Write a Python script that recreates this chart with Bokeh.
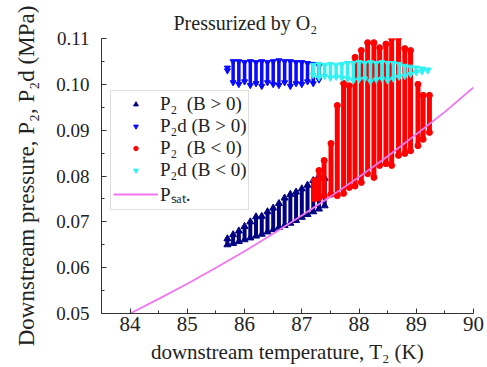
from bokeh.plotting import figure
from bokeh.models import FixedTicker, PrintfTickFormatter, Legend
from bokeh.embed import file_html
from bokeh.resources import INLINE

# ---------------- data ----------------
x_ticks = [84, 85, 86, 87, 88, 89, 90]
y_ticks = [0.05, 0.06, 0.07, 0.08, 0.09, 0.10, 0.11]

# P2 (B > 0): column temperature, lowest and highest pressure
p2_pos_T = [85.70, 85.80, 85.90, 86.00, 86.10, 86.20, 86.30, 86.40, 86.50,
            86.60, 86.70, 86.80, 86.90, 87.00, 87.10, 87.20, 87.30, 87.40]
p2_pos_lo = [0.0650, 0.0653, 0.0657, 0.0661, 0.0665, 0.0669, 0.0673, 0.0678, 0.0683,
             0.0688, 0.0692, 0.0697, 0.0703, 0.0710, 0.0716, 0.0722, 0.0728, 0.0735]
p2_pos_hi = [0.0663, 0.0672, 0.0680, 0.0690, 0.0700, 0.0711, 0.0712, 0.0722, 0.0730,
             0.0740, 0.0752, 0.0760, 0.0765, 0.0772, 0.0780, 0.0790, 0.0800, 0.0795]

# P2d (B > 0)
p2d_pos_T = [85.70, 85.80, 85.90, 86.00, 86.10, 86.20, 86.30, 86.40, 86.50,
             86.60, 86.70, 86.80, 86.90, 87.00, 87.10, 87.20, 87.30]
p2d_pos_lo = [0.1030, 0.1004, 0.1000, 0.1006, 0.0998, 0.1002, 0.0996, 0.1004, 0.1000,
              0.0998, 0.1004, 0.0996, 0.1002, 0.1000, 0.1006, 0.1002, 0.1010]
p2d_pos_hi = [0.1036, 0.1050, 0.1050, 0.1048, 0.1050, 0.1048, 0.1050, 0.1048, 0.1050,
              0.1052, 0.1050, 0.1050, 0.1048, 0.1048, 0.1046, 0.1044, 0.1040]

# P2 (B < 0)
p2_neg_T = [87.22, 87.30, 87.39, 87.51, 87.62, 87.73, 87.83, 87.93, 88.04, 88.15,
            88.26, 88.36, 88.47, 88.57, 88.69, 88.80, 88.90, 89.03, 89.12, 89.23]
p2_neg_lo = [0.0750, 0.0752, 0.0757, 0.0760, 0.0757, 0.0762, 0.0775, 0.0778, 0.0786, 0.0805,
             0.0797, 0.0823, 0.0827, 0.0823, 0.0845, 0.0849, 0.0855, 0.0866, 0.0880, 0.0895]
p2_neg_hi = [0.0790, 0.0812, 0.0834, 0.0871, 0.0954, 0.1002, 0.0997, 0.1059, 0.1074, 0.1091,
             0.1091, 0.1080, 0.1088, 0.1100, 0.1102, 0.1078, 0.1074, 0.1000, 0.0976, 0.0976]

# P2d (B < 0)
p2d_neg_T = [87.20, 87.30, 87.40, 87.50, 87.60, 87.70, 87.80, 87.90, 88.00, 88.10, 88.20,
             88.30, 88.40, 88.50, 88.60, 88.70, 88.80, 88.90, 89.00, 89.10, 89.20]
p2d_neg_lo = [0.1020, 0.1015, 0.1018, 0.1014, 0.1016, 0.1014, 0.1012, 0.1008, 0.1010, 0.1012, 0.1006,
              0.1010, 0.1012, 0.1008, 0.1012, 0.1016, 0.1018, 0.1022, 0.1026, 0.1028, 0.1030]
p2d_neg_hi = [0.1042, 0.1044, 0.1042, 0.1044, 0.1042, 0.1044, 0.1046, 0.1046, 0.1048, 0.1046, 0.1048,
              0.1046, 0.1048, 0.1046, 0.1046, 0.1044, 0.1040, 0.1038, 0.1036, 0.1034, 0.1032]

# saturation pressure
psat_T = [84.0, 84.5, 85.0, 85.5, 86.0, 86.5, 87.0, 87.5, 88.0, 88.5, 89.0, 89.5, 90.0]
psat_P = [0.0500, 0.0532, 0.0565, 0.0600, 0.0636, 0.0674, 0.0714, 0.0755, 0.0798,
          0.0843, 0.0891, 0.0940, 0.0993]

SERIF = "Liberation Serif"
NAN = float("nan")

p = figure(width=487, height=367, x_range=(83.5, 90.0), y_range=(0.05, 0.11),
           output_backend="svg", toolbar_location=None,
           min_border_left=101, min_border_right=14, min_border_top=38, min_border_bottom=54)
p.outline_line_color = None
p.xgrid.visible = False
p.ygrid.visible = False
p.background_fill_color = "white"
p.border_fill_color = "white"

p.title.text = "Pressurized by O\u2082"
p.title.text_font = SERIF
p.title.text_font_size = "20px"
p.title.text_font_style = "normal"
p.title.align = "left"
p.title.offset = 72
p.title.standoff = 9
p.title.text_color = "#222222"

for ax in (p.xaxis[0], p.yaxis[0]):
    ax.axis_line_color = "#333333"
    ax.major_tick_line_color = "#333333"
    ax.minor_tick_line_color = "#333333"
    ax.major_tick_in = 5
    ax.major_tick_out = 0
    ax.minor_tick_in = 3
    ax.minor_tick_out = 0
    ax.major_label_text_font = SERIF
    ax.axis_label_text_font = SERIF
    ax.axis_label_text_font_style = "normal"
    ax.major_label_text_color = "#222222"
    ax.axis_label_text_color = "#222222"

p.xaxis.ticker = FixedTicker(ticks=x_ticks, minor_ticks=[t + 0.5 for t in x_ticks[:-1]])
p.yaxis.ticker = FixedTicker(ticks=y_ticks, minor_ticks=[t + 0.005 for t in y_ticks[:-1]])
p.yaxis.formatter = PrintfTickFormatter(format="%.2f")
p.xaxis.major_label_text_font_size = "21px"
p.yaxis.major_label_text_font_size = "19px"
p.xaxis.major_label_standoff = 3
p.yaxis.major_label_standoff = 12
p.xaxis.axis_label = "downstream temperature, T\u2082 (K)"
p.yaxis.axis_label = "Downstream pressure, P\u2082, P\u2082d (MPa)"
p.xaxis.axis_label_text_font_size = "21px"
p.yaxis.axis_label_text_font_size = "23px"
p.xaxis.axis_label_standoff = 6
p.yaxis.axis_label_standoff = 14

NAVY = "#000080"
BLUE = "#0a0aff"
RED = "#ff0000"
CYAN = "#30f2f2"
VIOLET = "#f276f2"

# P2 (B > 0)
p.segment(x0=p2_pos_T, y0=p2_pos_lo, x1=p2_pos_T, y1=p2_pos_hi, line_color=NAVY, line_width=4)
p.scatter(x=p2_pos_T + p2_pos_T, y=p2_pos_lo + p2_pos_hi, marker="triangle", size=7,
          fill_color=NAVY, line_color=NAVY)
# P2d (B > 0)
p.segment(x0=p2d_pos_T, y0=p2d_pos_lo, x1=p2d_pos_T, y1=p2d_pos_hi, line_color=BLUE, line_width=3.5)
p.scatter(x=p2d_pos_T + p2d_pos_T, y=p2d_pos_lo + p2d_pos_hi, marker="inverted_triangle", size=6,
          fill_color=BLUE, line_color=BLUE)
# P2 (B < 0)
p.segment(x0=p2_neg_T, y0=p2_neg_lo, x1=p2_neg_T, y1=p2_neg_hi, line_color=RED, line_width=5)
p.scatter(x=p2_neg_T + p2_neg_T, y=p2_neg_lo + p2_neg_hi, marker="circle", size=6,
          fill_color=RED, line_color=RED)
# P2d (B < 0)
p.segment(x0=p2d_neg_T, y0=p2d_neg_lo, x1=p2d_neg_T, y1=p2d_neg_hi, line_color=CYAN, line_width=3.5)
p.scatter(x=p2d_neg_T + p2d_neg_T, y=p2d_neg_lo + p2d_neg_hi, marker="inverted_triangle", size=6,
          fill_color=CYAN, line_color=CYAN)
# Psat
r5 = p.line(x=psat_T, y=psat_P, line_color=VIOLET, line_width=1.8)

# legend glyph proxies (NaN -> nothing drawn in the plot area)
l1 = p.scatter(x=[NAN], y=[NAN], marker="triangle", size=5, fill_color=NAVY, line_color=NAVY)
l2 = p.scatter(x=[NAN], y=[NAN], marker="inverted_triangle", size=5, fill_color=BLUE, line_color=BLUE)
l3 = p.scatter(x=[NAN], y=[NAN], marker="hex", size=4, fill_color=RED, line_color=RED)
l4 = p.scatter(x=[NAN], y=[NAN], marker="inverted_triangle", size=5, fill_color=CYAN, line_color=CYAN)

legend = Legend(items=[
    ("P\u2082  (B > 0)", [l1]),
    ("P\u2082d (B > 0)", [l2]),
    ("P\u2082  (B < 0)", [l3]),
    ("P\u2082d (B < 0)", [l4]),
    ("P\u209b\u2090\u209c.", [r5]),
], location=(9, 103))
legend.label_text_font = SERIF
legend.label_text_font_size = "19px"
legend.label_text_color = "#222222"
legend.glyph_width = 45
legend.glyph_height = 12
legend.label_height = 22
legend.label_standoff = 2
legend.spacing = 0
legend.padding = 2
legend.margin = 0
legend.border_line_color = "#bbbbbb"
legend.border_line_width = 1
legend.background_fill_alpha = 1.0
p.add_layout(legend, "center")

open("out.html", "w").write(file_html(p, INLINE))
